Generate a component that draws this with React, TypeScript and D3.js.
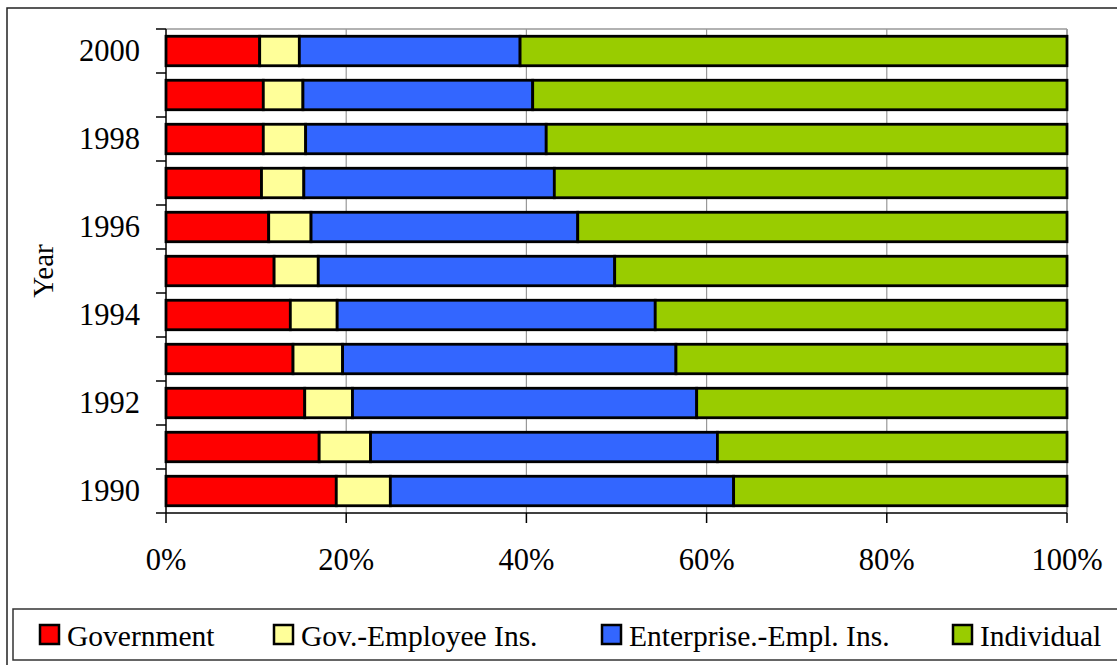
import React from "react";
import * as d3 from "d3";

const years = ["2000", "1999", "1998", "1997", "1996", "1995", "1994", "1993", "1992", "1991", "1990"];
const seriesNames = ["Government", "Gov.-Employee Ins.", "Enterprise.-Empl. Ins.", "Individual"];
const government = [10.4, 10.8, 10.8, 10.6, 11.4, 12.0, 13.8, 14.1, 15.4, 17.0, 18.9];
const govEmployee = [4.4, 4.4, 4.7, 4.7, 4.7, 4.9, 5.2, 5.5, 5.3, 5.7, 6.0];
const enterprise = [24.5, 25.5, 26.7, 27.8, 29.6, 32.9, 35.3, 37.0, 38.2, 38.5, 38.1];
const individual = [60.7, 59.3, 57.8, 56.9, 54.3, 50.2, 45.7, 43.4, 41.1, 38.8, 37.0];
const xTicks = [0, 20, 40, 60, 80, 100];
const yLabelYears = ["2000", "1998", "1996", "1994", "1992", "1990"];

const colors = ["#FF0000", "#FFFF99", "#3366FF", "#99CC00"];
const FONT = "Liberation Serif, DejaVu Serif, serif";

export default function App() {
  const W = 1117;
  const H = 665;
  const left = 166;
  const right = 1067;
  const top = 29;
  const bottom = 513;

  const x = d3.scaleLinear().domain([0, 100]).range([left, right]);
  const y = d3.scaleBand<string>().domain(years).range([top, bottom]).paddingInner(0.33).paddingOuter(0.165);

  const table = years.map((yr, i) => ({
    year: yr,
    s0: government[i],
    s1: govEmployee[i],
    s2: enterprise[i],
    s3: individual[i],
  }));
  const stack = d3.stack<any>().keys(["s0", "s1", "s2", "s3"]);
  const stacked = stack(table);

  const step = y.step();
  const boundaries = d3.range(years.length + 1).map((k) => top + k * step);

  const legendX = [40, 274, 602, 953];
  const ts = { fontFamily: FONT };

  return (
    <svg width={W} height={H} style={{ position: "absolute", left: 0, top: 0, background: "#fff" }}>
      {/* outer frame */}
      <rect x={7} y={8} width={W + 20} height={H + 20} fill="#fff" stroke="#222" strokeWidth={1.5} />
      {/* gridlines */}
      {xTicks.slice(1).map((t) => (
        <line key={"g" + t} x1={x(t)} x2={x(t)} y1={top} y2={bottom} stroke="#999" strokeWidth={1.2} />
      ))}
      <line x1={left} x2={right} y1={top} y2={top} stroke="#999" strokeWidth={1.5} />
      <line x1={right} x2={right} y1={top} y2={bottom} stroke="#999" strokeWidth={1.5} />
      {/* bars */}
      {stacked.map((layer, si) =>
        layer.map((d, i) => (
          <rect
            key={si + "-" + i}
            x={x(d[0])}
            y={y(years[i])}
            width={x(d[1]) - x(d[0])}
            height={y.bandwidth()}
            fill={colors[si]}
            stroke="#000"
            strokeWidth={2.8}
          />
        ))
      )}
      {/* axes */}
      <line x1={left} x2={left} y1={top} y2={bottom} stroke="#000" strokeWidth={1.5} />
      <line x1={left} x2={right} y1={bottom} y2={bottom} stroke="#000" strokeWidth={1.5} />
      {boundaries.map((b, k) => (
        <line key={"yt" + k} x1={left - 10} x2={left} y1={b} y2={b} stroke="#000" strokeWidth={1.5} />
      ))}
      {xTicks.map((t) => (
        <line key={"xt" + t} x1={x(t)} x2={x(t)} y1={bottom} y2={bottom + 10} stroke="#000" strokeWidth={1.5} />
      ))}
      {yLabelYears.map((yr) => (
        <text key={"yl" + yr} x={140} y={(y(yr) as number) + y.bandwidth() / 2 + 10} textAnchor="end" fontSize={30.5} fill="#000" style={ts}>
          {yr}
        </text>
      ))}
      {xTicks.map((t) => (
        <text key={"xl" + t} x={x(t)} y={570} textAnchor="middle" fontSize={30.5} fill="#000" style={ts}>
          {t + "%"}
        </text>
      ))}
      <text transform="translate(53,271) rotate(-90)" textAnchor="middle" fontSize={29} fill="#000" style={ts}>
        Year
      </text>
      {/* legend */}
      <rect x={13} y={609} width={W + 20} height={51} fill="#fff" stroke="#333" strokeWidth={1.5} />
      {seriesNames.map((name, i) => (
        <g key={"lg" + i}>
          <rect x={legendX[i]} y={625} width={19} height={19} fill={colors[i]} stroke="#000" strokeWidth={2.5} />
          <text x={legendX[i] + 27} y={646} fontSize={29.5} fill="#000" style={ts}>
            {name}
          </text>
        </g>
      ))}
    </svg>
  );
}
